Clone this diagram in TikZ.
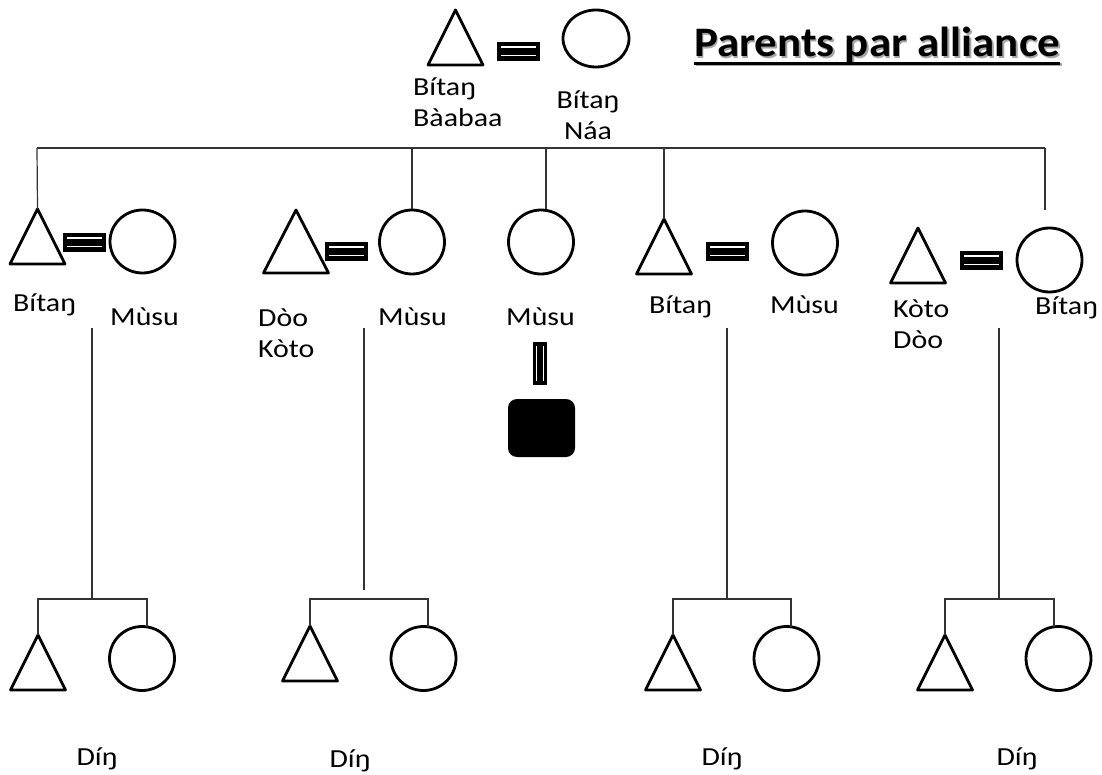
\documentclass[tikz,border=0pt]{standalone}
\usepackage{fontspec}
\setmainfont{Carlito}[FakeStretch=1.15]
\newfontfamily\titlefont{Carlito}[FakeStretch=1.07]
\usetikzlibrary{shapes.geometric}
\begin{document}
\begin{tikzpicture}[x=1pt,y=-1pt,
  sym/.style={line width=2.8pt,line join=round},
  circ/.style={draw,ellipse,line width=2.8pt,inner sep=0pt,minimum width=65pt,minimum height=64pt},
  conn/.style={draw=black!80,line width=1.2pt},
  lbl/.style={inner sep=0pt,font=\fontsize{26}{31}\selectfont},
  eqh/.pic={\fill (0,0) rectangle (43,19); \draw[white,line width=1.8pt] (4,5) -- (39,5) (4,13.5) -- (39,13.5);},
  eqv/.pic={\fill (0,0) rectangle (14,43); \draw[white,line width=1.8pt] (3.5,4) -- (3.5,39) (10.5,4) -- (10.5,39);},
  tri/.pic={\draw[sym] (0,0) -- (27.5,55) -- (-27.5,55) -- cycle;},
  bigtri/.pic={\draw[sym] (0,0) -- (32.5,63) -- (-32.5,63) -- cycle;}
]
\useasboundingbox (0,0) rectangle (1102,775);

% title
\node[anchor=base west,inner sep=0pt,text=black!35,font=\titlefont\bfseries\fontsize{42}{48}\selectfont] (titleshadow) at (695.5,58.5) {Parents par alliance};
\fill[black!35] (695.5,63.5) rectangle (1061.5,66.5);
\node[anchor=base west,inner sep=0pt,font=\titlefont\bfseries\fontsize{42}{48}\selectfont] (title) at (694,57) {Parents par alliance};
\fill (694,62) rectangle (1060,65);

% top couple
\coordinate (p0t) at (455.5,10);
\pic at (p0t) {tri};
\pic at (497,42) {eqh};
\node[circ,minimum width=66pt,minimum height=57pt] (p0c) at (596,38.5) {};
\node[lbl,anchor=base west,align=left] (p0tl) at (413,127) {Bítaŋ\\Bàabaa};
\node[lbl,anchor=base,align=center] (p0cl) at (588,140) {Bítaŋ\\Náa};

% sibling bar
\coordinate (h1) at (37,148);
\coordinate (h2) at (412,148);
\coordinate (h3) at (546,148);
\coordinate (h4) at (664,148);
\coordinate (h5) at (1045,148);
\draw[conn] (h1) -- (h5);

% generation 2
\coordinate (g1t) at (37.5,209);
\pic at (g1t) {tri};
\pic at (63,233) {eqh};
\node[circ,minimum height=63pt] (g1c) at (142.5,241.5) {};
\draw[conn] (h1) -- (g1t);
\node[lbl,anchor=base west] (g1tl) at (13,312) {Bítaŋ};
\node[lbl,anchor=base west] (g1cl) at (110,325) {Mùsu};

\coordinate (g2t) at (296,210);
\pic at (g2t) {bigtri};
\pic at (325,242) {eqh};
\node[circ] (g2c) at (412,242) {};
\draw[conn] (h2) -- (g2c.north);
\node[lbl,anchor=base west,align=left] (g2tl) at (258,357) {Dòo\\Kòto};
\node[lbl,anchor=base west] (g2cl) at (378,325) {Mùsu};

\node[circ] (g3c) at (541,242) {};
\draw[conn] (h3) -- (h3 |- g3c.north);
\node[lbl,anchor=base west] (g3cl) at (506,325) {Mùsu};
\pic at (533,342) {eqv};
\node[fill,rounded corners=9pt,minimum width=67pt,minimum height=58pt,inner sep=0pt] (g3s) at (541.5,428) {};

\coordinate (g4t) at (664,219);
\pic at (g4t) {tri};
\pic at (706,242) {eqh};
\node[circ] (g4c) at (805,243) {};
\draw[conn] (h4) -- (g4t);
\node[lbl,anchor=base west] (g4tl) at (649,314) {Bítaŋ};
\node[lbl,anchor=base west] (g4cl) at (770,314) {Mùsu};

\coordinate (g5t) at (918,228);
\pic at (g5t) {tri};
\pic at (960,251) {eqh};
\node[circ] (g5c) at (1049.5,260) {};
\coordinate (h5e) at (1045,210);
\draw[conn] (h5) -- (h5e);
\node[lbl,anchor=base west,align=left] (g5tl) at (893,348) {Kòto\\Dòo};
\node[lbl,anchor=base west] (g5cl) at (1035,315) {Bítaŋ};

% descent lines
\coordinate (s1) at (92,328);  \coordinate (b1) at (92,599);
\coordinate (s2) at (364,328); \coordinate (b2) at (364,590);
\coordinate (s3) at (727,328); \coordinate (b3) at (727,599);
\coordinate (s4) at (999,328); \coordinate (b4) at (999,599);
\draw[conn] (s1) -- (b1);
\draw[conn] (s2) -- (b2);
\draw[conn] (s3) -- (b3);
\draw[conn] (s4) -- (b4);

% generation 3
\coordinate (d1t) at (38,635);
\pic at (d1t) {tri};
\node[circ] (d1c) at (142,658.5) {};
\coordinate (d1r) at (147,626.5);
\draw[conn] (d1t) -- (d1t |- b1) -- (d1r |- b1) -- (d1r);
\node[lbl,anchor=base] (d1l) at (97,765) {Díŋ};

\coordinate (d2t) at (310,626);
\pic at (d2t) {tri};
\node[circ] (d2c) at (423.5,658.5) {};
\coordinate (d2r) at (428,626.5);
\coordinate (b2b) at (364,599);
\draw[conn] (d2t) -- (d2t |- b2b) -- (d2r |- b2b) -- (d2r);
\node[lbl,anchor=base] (d2l) at (350,767) {Díŋ};

\coordinate (d3t) at (673,635);
\pic at (d3t) {tri};
\node[circ] (d3c) at (786.5,658.5) {};
\coordinate (d3r) at (791,626.5);
\draw[conn] (d3t) -- (d3t |- b3) -- (d3r |- b3) -- (d3r);
\node[lbl,anchor=base] (d3l) at (722,765) {Díŋ};

\coordinate (d4t) at (945,635);
\pic at (d4t) {tri};
\node[circ] (d4c) at (1058.5,658.5) {};
\coordinate (d4r) at (1054,626.5);
\draw[conn] (d4t) -- (d4t |- b4) -- (d4r |- b4) -- (d4r);
\node[lbl,anchor=base] (d4l) at (1017,765) {Díŋ};
\end{tikzpicture}
\end{document}
